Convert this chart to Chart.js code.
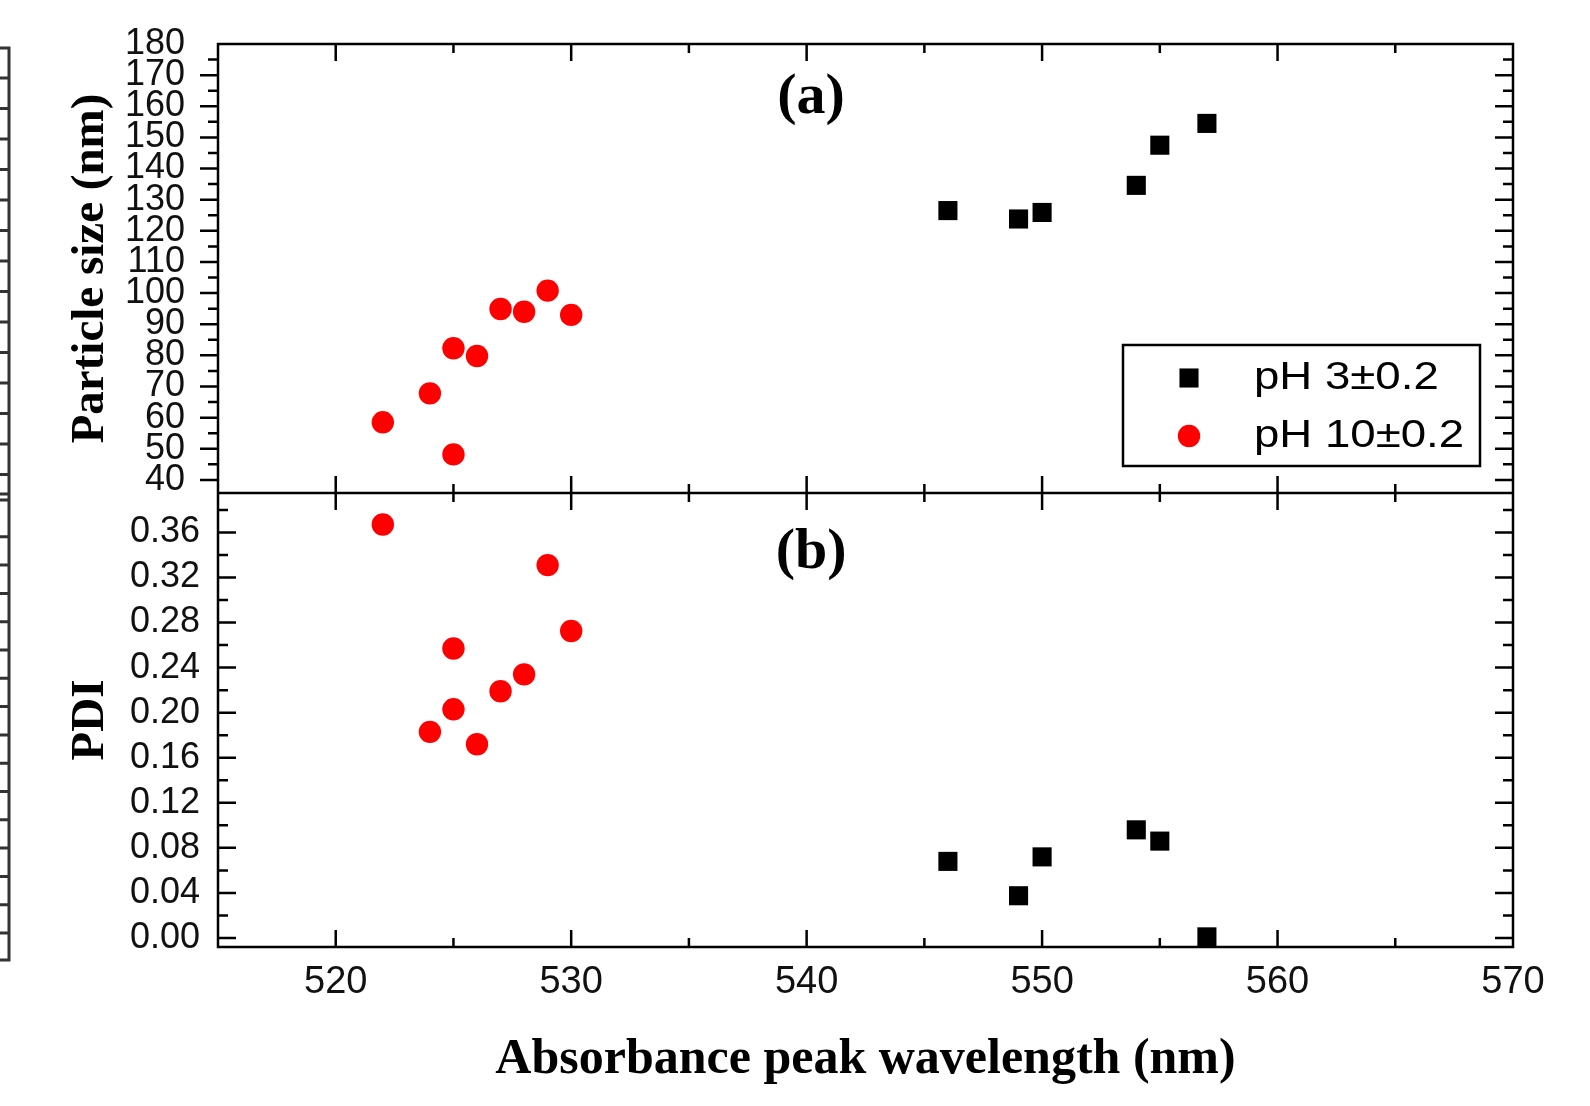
<!DOCTYPE html>
<html>
<head>
<meta charset="utf-8">
<script src="https://cdn.jsdelivr.net/npm/chart.js@4.4.1/dist/chart.umd.min.js"></script>
<style>
  html, body { margin: 0; padding: 0; background: #fff; }
  #wrap { width: 1590px; height: 1106px; position: relative; }
</style>
</head>
<body>
<div id="wrap"><canvas id="chart"></canvas></div>
<script>
// ------------------- Data -------------------
const seriesLabels = ['pH 3±0.2', 'pH 10±0.2'];

const wavelengthBlack = [546, 549, 550, 554, 555, 557];
const sizeBlack = [126.5, 123.8, 125.9, 134.6, 147.5, 154.5];
const pdiBlack = [0.068, 0.0375, 0.072, 0.096, 0.086, 0.001];

const wavelengthRed = [522, 524, 525, 525, 526, 527, 528, 529, 530];
const sizeRed = [58.5, 67.8, 82.3, 48.2, 79.8, 94.9, 94.0, 100.8, 93.0];
const pdiRed = [0.367, 0.183, 0.257, 0.203, 0.172, 0.219, 0.234, 0.331, 0.2725];

const xTickValues = [520, 530, 540, 550, 560, 570];
const sizeTickValues = [40, 50, 60, 70, 80, 90, 100, 110, 120, 130, 140, 150, 160, 170, 180];
const pdiTickValues = [0, 0.04, 0.08, 0.12, 0.16, 0.2, 0.24, 0.28, 0.32, 0.36];

const toPoints = (xs, ys) => xs.map((x, i) => ({ x: x, y: ys[i] }));

// ------------------- Frame, ticks, legend, labels -------------------
const MAJOR = 17, MINOR = 9;

function minorValues(majors, min, max) {
    const step = majors[1] - majors[0];
    const out = [];
    for (let i = -1; i < majors.length; i++) {
        const v = (i < 0 ? majors[0] - step : majors[i]) + step / 2;
        if (v > min + 1e-9 && v < max - 1e-9) out.push(v);
    }
    return out;
}

// keep label overflow from pushing the plot area around
function fixAxis(size) {
    return s => {
        if (s.isHorizontal()) s.height = size; else s.width = size;
        s.paddingTop = 0; s.paddingBottom = 0; s.paddingLeft = 0; s.paddingRight = 0;
    };
}

const framePlugin = {
    id: 'frame',
    afterDatasetsDraw(chart) {
        const ctx = chart.ctx;
        const xs = chart.scales.x;
        const panels = [
            { s: chart.scales.ySize, leftOut: true, majors: sizeTickValues },
            { s: chart.scales.yPdi, leftOut: false, majors: pdiTickValues }
        ];
        const xMajors = xTickValues.filter(v => v > xs.min && v < xs.max);
        const xMinors = minorValues(xTickValues, xs.min, xs.max);

        ctx.save();
        ctx.strokeStyle = '#000';
        ctx.lineWidth = 2.5;
        ctx.beginPath();
        panels.forEach(p => {
            const s = p.s;
            ctx.rect(xs.left, s.top, xs.right - xs.left, s.bottom - s.top);

            // horizontal axes: ticks pointing inward
            const xt = (vals, len) => vals.forEach(v => {
                const px = xs.getPixelForValue(v);
                ctx.moveTo(px, s.top); ctx.lineTo(px, s.top + len);
                ctx.moveTo(px, s.bottom); ctx.lineTo(px, s.bottom - len);
            });
            xt(xMajors, MAJOR);
            xt(xMinors, MINOR);

            // vertical axes
            const yt = (vals, len) => vals.forEach(v => {
                const py = s.getPixelForValue(v);
                if (py < s.top + 1 || py > s.bottom - 1) return;
                const dir = p.leftOut ? -1 : 1;
                ctx.moveTo(xs.left, py); ctx.lineTo(xs.left + dir * len, py);
                ctx.moveTo(xs.right, py); ctx.lineTo(xs.right - len, py);
            });
            yt(p.majors, MAJOR + 1);
            yt(minorValues(p.majors, s.min, s.max), MINOR + 1);
        });
        ctx.stroke();

        // neighbouring figure edge at far left
        ctx.strokeStyle = '#333';
        ctx.lineWidth = 3;
        ctx.beginPath();
        ctx.moveTo(0, 48); ctx.lineTo(9, 48); ctx.lineTo(9, 960); ctx.lineTo(0, 960);
        ctx.moveTo(0, 494); ctx.lineTo(9, 494);
        ctx.moveTo(0, 500); ctx.lineTo(9, 500);
        for (let y = 78; y < 480; y += 30.5) { ctx.moveTo(0, y); ctx.lineTo(9, y); }
        for (let y = 933; y > 510; y -= 28.3) { ctx.moveTo(0, y); ctx.lineTo(9, y); }
        ctx.stroke();

        // panel labels
        const top = chart.scales.ySize, bot = chart.scales.yPdi;
        const cx = xs.left + (xs.right - xs.left) * 0.458;
        ctx.fillStyle = '#000';
        ctx.font = 'bold 58px "Liberation Serif"';
        ctx.textAlign = 'center';
        ctx.textBaseline = 'middle';
        ctx.fillText('(a)', cx, top.top + 54);
        ctx.fillText('(b)', cx, bot.top + 60);

        // legend
        const bw = 357, bh = 121;
        const bx = xs.right - 390, by = top.top + 301;
        ctx.fillStyle = '#fff';
        ctx.fillRect(bx, by, bw, bh);
        ctx.strokeStyle = '#000';
        ctx.lineWidth = 2.5;
        ctx.strokeRect(bx, by, bw, bh);
        chart.data.datasets.slice(0, 2).forEach((ds, i) => {
            const ry = by + 33 + i * 58;
            ctx.fillStyle = ds.backgroundColor;
            ctx.strokeStyle = ds.backgroundColor;
            Chart.helpers.drawPoint(ctx, { pointStyle: ds.pointStyle, radius: ds.pointRadius, rotation: 0, borderWidth: 0 }, bx + 66, ry);
            ctx.save();
            ctx.translate(bx + 131, ry + 1);
            ctx.scale(1.2, 1);
            ctx.fillStyle = '#000';
            ctx.font = '38px "Liberation Sans"';
            ctx.textAlign = 'left';
            ctx.textBaseline = 'middle';
            ctx.fillText(ds.label, 0, 0);
            ctx.restore();
        });
        ctx.restore();
    }
};

// ------------------- Chart -------------------
const tickFont = { family: 'Liberation Sans', size: 36 };
const titleFont = { family: 'Liberation Serif', size: 47, weight: 'bold', lineHeight: 1 };

const blackStyle = { pointStyle: 'rect', pointRadius: 13.5, backgroundColor: '#000', borderColor: '#000', borderWidth: 0 };
const redStyle = { pointStyle: 'circle', pointRadius: 11.2, backgroundColor: '#ff0000', borderColor: '#ff0000', borderWidth: 0 };

new Chart(document.getElementById('chart'), {
    type: 'scatter',
    data: {
        datasets: [
            { label: seriesLabels[0], data: toPoints(wavelengthBlack, sizeBlack), yAxisID: 'ySize', ...blackStyle },
            { label: seriesLabels[1], data: toPoints(wavelengthRed, sizeRed), yAxisID: 'ySize', ...redStyle },
            { label: seriesLabels[0], data: toPoints(wavelengthBlack, pdiBlack), yAxisID: 'yPdi', ...blackStyle },
            { label: seriesLabels[1], data: toPoints(wavelengthRed, pdiRed), yAxisID: 'yPdi', ...redStyle }
        ]
    },
    options: {
        responsive: true,
        maintainAspectRatio: false,
        animation: false,
        events: [],
        layout: { padding: { left: 0, top: 44, right: 77, bottom: 0 } },
        plugins: { legend: { display: false }, tooltip: { enabled: false } },
        scales: {
            x: {
                type: 'linear',
                position: 'bottom',
                min: 515,
                max: 570,
                afterBuildTicks: s => { s.ticks = xTickValues.map(v => ({ value: v })); },
                afterFit: fixAxis(159),
                grid: { display: false, drawTicks: false },
                border: { display: false },
                ticks: { font: { family: 'Liberation Sans', size: 38 }, color: '#111', padding: 13, maxRotation: 0, autoSkip: false },
                title: {
                    display: true,
                    text: 'Absorbance peak wavelength (nm)',
                    color: '#000',
                    font: { family: 'Liberation Serif', size: 50, weight: 'bold', lineHeight: 1 },
                    padding: { top: 0, bottom: 21 }
                }
            },
            yPdi: {
                type: 'linear',
                position: 'left',
                stack: 'panels',
                stackWeight: 454,
                min: -0.008,
                max: 0.395,
                afterBuildTicks: s => { s.ticks = pdiTickValues.map(v => ({ value: v })); },
                afterFit: fixAxis(218),
                grid: { display: false, drawTicks: false },
                border: { display: false },
                ticks: { font: tickFont, color: '#111', padding: 18, autoSkip: false, callback: v => v.toFixed(2) },
                title: { display: true, text: 'PDI', color: '#000', font: titleFont, padding: { top: 67.5, bottom: 0 } }
            },
            ySize: {
                type: 'linear',
                position: 'left',
                stack: 'panels',
                stackWeight: 449,
                min: 35.8,
                max: 180,
                afterBuildTicks: s => { s.ticks = sizeTickValues.map(v => ({ value: v })); },
                afterFit: fixAxis(218),
                grid: { display: false, drawTicks: false },
                border: { display: false },
                ticks: { font: tickFont, color: '#111', padding: 33, autoSkip: false },
                title: { display: true, text: 'Particle size (nm)', color: '#000', font: titleFont, padding: { top: 67.5, bottom: 0 } }
            }
        }
    },
    plugins: [framePlugin]
});
</script>
</body>
</html>
